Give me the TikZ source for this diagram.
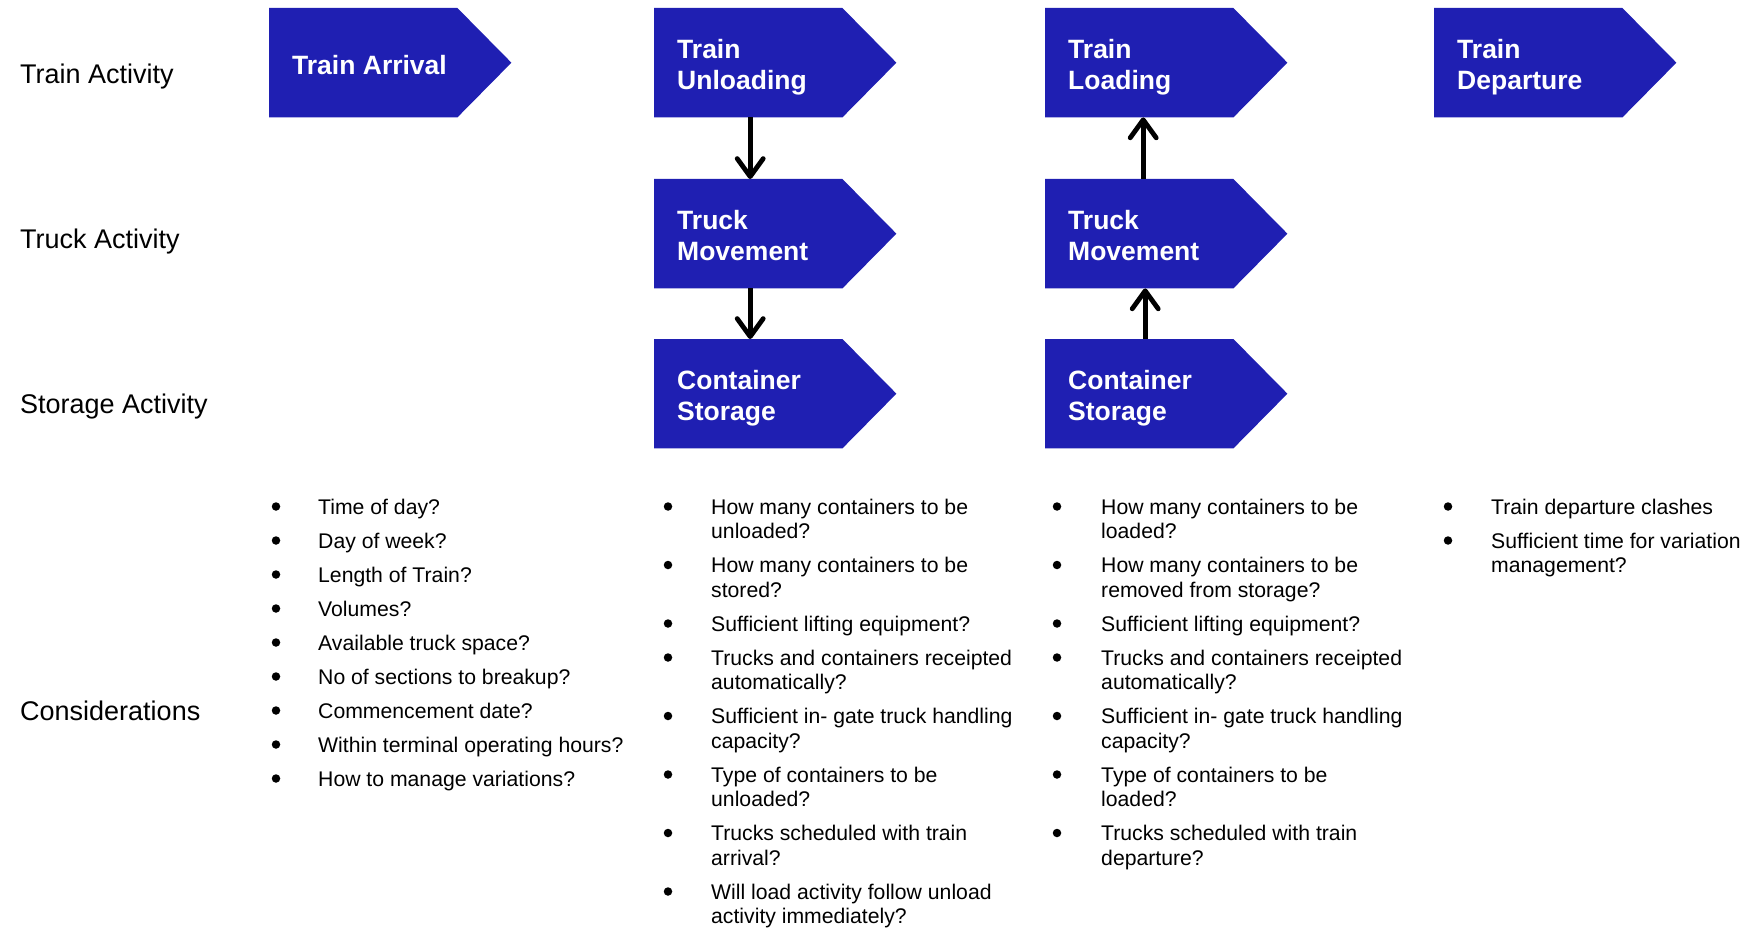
\documentclass[tikz,border=0pt]{standalone}
\usepackage{fontspec}
\setmainfont{Liberation Sans}
\usetikzlibrary{arrows.meta}
\definecolor{boxblue}{RGB}{31,31,178}
\newcommand{\pbx}[1]{\parbox[t]{420pt}{#1}}
\begin{document}
\begin{tikzpicture}[x=1pt,y=-1pt,
  blk/.style={draw=none, minimum width=188pt, minimum height=109pt, anchor=north west, inner sep=0pt},
  blktxt/.style={anchor=base west, inner sep=0pt, text=white, font=\fontsize{26.5}{31}\selectfont\bfseries},
  rowlab/.style={anchor=base west, inner sep=0pt, font=\fontsize{27}{31}\selectfont},
  itm/.style={anchor=base west, inner sep=0pt, font=\fontsize{21.2}{24.5}\selectfont},
  bul/.style={circle, fill=black, draw=none, minimum size=8.5pt, inner sep=0pt},
  arr/.style={line width=4.8pt, -{Straight Barb[length=18pt,width=26pt,line cap=round,line join=round]}}
]
\useasboundingbox (0,0) rectangle (1751,928);

% row labels
\node[rowlab] (l1) at (20,84) {Train Activity};
\node[rowlab] (l2) at (20,248) {Truck Activity};
\node[rowlab] (l3) at (20,413) {Storage Activity};
\node[rowlab] (l4) at (20,720) {Considerations};

% activity boxes
\node[blk] (ta) at (269,8) {};
\node[blk] (tu) at (654,8) {};
\node[blk] (tl) at (1045,8) {};
\node[blk] (td) at (1434,8) {};
\node[blk] (m1) at (654,179) {};
\node[blk] (m2) at (1045,179) {};
\node[blk] (s1) at (654,339) {};
\node[blk] (s2) at (1045,339) {};
\foreach \n in {ta,tu,tl,td,m1,m2,s1,s2}{
  \fill[boxblue] (\n.north west) -- (\n.north east) -- ([xshift=54pt]\n.east)
    -- (\n.south east) -- (\n.south west) -- cycle;
}

% box texts
\node[blktxt] (tat) at (292,74.5) {Train Arrival};
\node[blktxt] (tut) at (677,58.5) {\pbx{Train\\Unloading}};
\node[blktxt] (tlt) at (1068,58.5) {\pbx{Train\\Loading}};
\node[blktxt] (tdt) at (1457,58.5) {\pbx{Train\\Departure}};
\node[blktxt] (m1t) at (677,229.5) {\pbx{Truck\\Movement}};
\node[blktxt] (m2t) at (1068,229.5) {\pbx{Truck\\Movement}};
\node[blktxt] (s1t) at (677,389.5) {\pbx{Container\\Storage}};
\node[blktxt] (s2t) at (1068,389.5) {\pbx{Container\\Storage}};

% connectors
\draw[arr] ([xshift=2pt]tu.south) -- ([xshift=2pt]m1.north);
\draw[arr] ([xshift=2pt]m1.south) -- ([xshift=2pt]s1.north);
\draw[arr] ([xshift=4pt]m2.north) -- ([xshift=4pt]tl.south);
\draw[arr] ([xshift=6pt]s2.north) -- ([xshift=6pt]m2.south);

% considerations
\foreach \yy/\itxt [count=\i] in {
  514/{Time of day?},
  548/{Day of week?},
  582/{Length of Train?},
  616/{Volumes?},
  650/{Available truck space?},
  684/{No of sections to breakup?},
  718/{Commencement date?},
  752/{Within terminal operating hours?},
  786/{How to manage variations?}}{
  \node[bul] (b1-\i) at (276,\yy-7.5) {};
  \node[itm] (c1-\i) at (318,\yy) {\pbx{\itxt}};
}
\foreach \yy/\itxt [count=\i] in {
  514/{How many containers to be\\unloaded?},
  572.5/{How many containers to be\\stored?},
  631/{Sufficient lifting equipment?},
  665/{Trucks and containers receipted\\automatically?},
  723.5/{Sufficient in- gate truck handling\\capacity?},
  782/{Type of containers to be\\unloaded?},
  840.5/{Trucks scheduled with train\\arrival?},
  899/{Will load activity follow unload\\activity immediately?}}{
  \node[bul] (b2-\i) at (668,\yy-7.5) {};
  \node[itm] (c2-\i) at (711,\yy) {\pbx{\itxt}};
}
\foreach \yy/\itxt [count=\i] in {
  514/{How many containers to be\\loaded?},
  572.5/{How many containers to be\\removed from storage?},
  631/{Sufficient lifting equipment?},
  665/{Trucks and containers receipted\\automatically?},
  723.5/{Sufficient in- gate truck handling\\capacity?},
  782/{Type of containers to be\\loaded?},
  840.5/{Trucks scheduled with train\\departure?}}{
  \node[bul] (b3-\i) at (1057,\yy-7.5) {};
  \node[itm] (c3-\i) at (1101,\yy) {\pbx{\itxt}};
}
\foreach \yy/\itxt [count=\i] in {
  514/{Train departure clashes},
  548/{Sufficient time for variation\\management?}}{
  \node[bul] (b4-\i) at (1448,\yy-7.5) {};
  \node[itm] (c4-\i) at (1491,\yy) {\pbx{\itxt}};
}
\end{tikzpicture}
\end{document}
